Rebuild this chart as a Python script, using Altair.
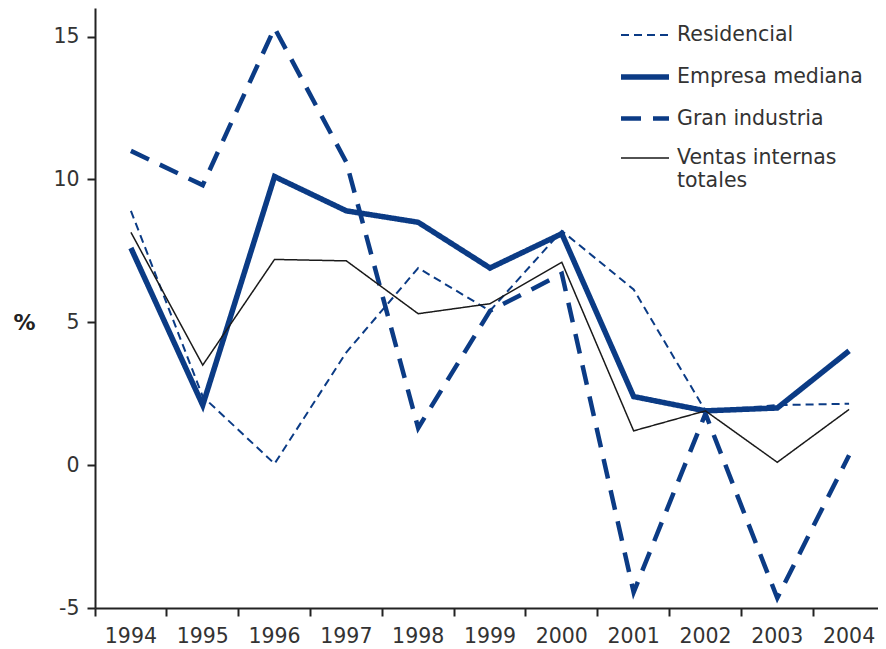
import altair as alt
import pandas as pd

years = [str(y) for y in range(1994, 2005)]
series = ["Residencial", "Empresa mediana", "Gran industria", "Ventas internas totales"]
residencial = [8.9, 2.4, 0.05, 3.95, 6.9, 5.4, 8.2, 6.15, 1.9, 2.1, 2.15]
empresa_mediana = [7.6, 2.1, 10.1, 8.9, 8.5, 6.9, 8.1, 2.4, 1.9, 2.0, 4.0]
gran_industria = [11.0, 9.8, 15.3, 10.6, 1.3, 5.4, 6.7, -4.45, 1.8, -4.65, 0.35]
ventas_totales = [8.15, 3.5, 7.2, 7.15, 5.3, 5.65, 7.1, 1.2, 1.9, 0.1, 1.95]
y_ticks = [-5, 0, 5, 10, 15]

BLUE = "#0b3b85"
colors = [BLUE, BLUE, BLUE, "#1a1a1a"]
dashes = [[8, 5], [1, 0], [20, 12], [1, 0]]
widths = [2, 5.5, 4.5, 1.5]

rows = []
for name, vals in zip(series, [residencial, empresa_mediana, gran_industria, ventas_totales]):
    for yr, v in zip(years, vals):
        rows.append({"year": yr, "value": v, "serie": name})
df = pd.DataFrame(rows)

FONT = "DejaVu Sans"

legend_kw = dict(
    title=None, orient="none", legendX=523, legendY=2, padding=0,
    symbolType="stroke", symbolSize=2304,
    labelFont=FONT, labelFontSize=20.5, labelColor="#333333",
    labelOffset=5, rowPadding=4, labelLimit=400,
    labelExpr="datum.label == 'Ventas internas totales' ? ['Ventas internas', 'totales'] : datum.label",
)

chart = alt.Chart(df).mark_line(strokeCap="butt", strokeJoin="miter").encode(
    x=alt.X("year:O", bandPosition=0.5,
            scale=alt.Scale(type="band", paddingInner=0, paddingOuter=0, range=[0, 790]),
            axis=alt.Axis(title=None, labelAngle=0, bandPosition=0,
                          tickSize=8, tickWidth=2, tickColor="#222222",
                          domainColor="#222222", domainWidth=2,
                          labelFont=FONT, labelFontSize=20.5, labelColor="#333333",
                          labelPadding=10, grid=False)),
    y=alt.Y("value:Q",
            scale=alt.Scale(domain=[-5, 16], nice=False, zero=False),
            axis=alt.Axis(values=y_ticks, title="%", titleAngle=0, titleX=-71, titleY=314,
                          titleAlign="center", titleBaseline="middle",
                          titleFont=FONT, titleFontSize=22, titleFontWeight="bold", titleColor="#222222",
                          tickSize=8, tickWidth=2, tickColor="#222222",
                          domainColor="#222222", domainWidth=2,
                          labelExpr="toString(datum.value)",
                          labelFont=FONT, labelFontSize=20.5, labelColor="#333333",
                          labelPadding=8, grid=False)),
    color=alt.Color("serie:N", scale=alt.Scale(domain=series, range=colors), legend=alt.Legend(**legend_kw)),
    strokeDash=alt.StrokeDash("serie:N", scale=alt.Scale(domain=series, range=dashes), legend=alt.Legend(**legend_kw)),
    strokeWidth=alt.StrokeWidth("serie:N", scale=alt.Scale(type="ordinal", domain=series, range=widths), legend=alt.Legend(**legend_kw)),
    detail="serie:N",
).properties(
    width=783, height=600,
    autosize=alt.AutoSizeParams(type="none"),
    padding={"left": 87, "top": 0, "right": 0, "bottom": 42},
).configure_view(stroke=None)

chart.save("out.html", embed_options={"renderer": "svg", "actions": False})
